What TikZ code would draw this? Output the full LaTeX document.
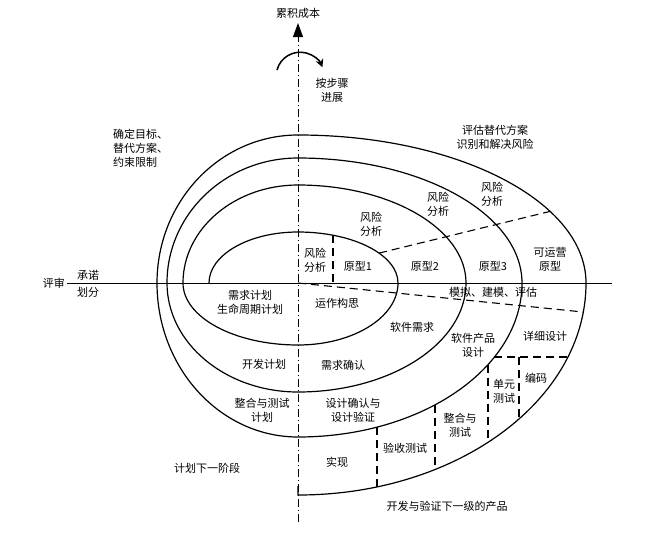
\documentclass[tikz,border=0pt]{standalone}
\usepackage{fontspec}
\newfontfamily\cjk{Noto Sans CJK SC}
\usetikzlibrary{arrows.meta}
\begin{document}
\begin{tikzpicture}[x=1pt,y=-1pt,
  txt/.style={font=\cjk\fontsize{11}{14}\selectfont, align=center, inner sep=0pt},
  curve/.style={line width=1.2pt},
  dsh/.style={line width=1.1pt, dash pattern=on 8pt off 5pt},
  axis/.style={line width=0.9pt, dash pattern=on 8pt off 3pt on 1pt off 3pt}]
\useasboundingbox (0,0) rectangle (652,538);
% vertical axis with arrow
\coordinate (axtop) at (298,23);
\coordinate (axbot) at (298,522);
\draw[axis] (axbot) -- (298,36);
\draw[line width=0.9pt, -{Triangle[length=14pt,width=10pt]}] (298,37) -- (axtop);
% rotation arrow
\draw[line width=1.5pt, -{Stealth[length=8pt,width=8pt]}] (277,70) arc[start angle=195, end angle=338, radius=24];
% horizontal axis
\coordinate (hl) at (67,283);
\coordinate (hr) at (612,283);
\draw[line width=1pt] (hl) -- (hr);
% spiral
\draw[curve] (209,283)
  arc[start angle=180, end angle=270, x radius=89, y radius=51]
  arc[start angle=270, end angle=360, x radius=100, y radius=51]
  arc[start angle=0, end angle=90, x radius=100, y radius=62]
  arc[start angle=90, end angle=180, x radius=115, y radius=62]
  arc[start angle=180, end angle=270, x radius=115, y radius=98]
  arc[start angle=270, end angle=360, x radius=168, y radius=98]
  arc[start angle=0, end angle=90, x radius=168, y radius=109]
  arc[start angle=90, end angle=180, x radius=131, y radius=109]
  arc[start angle=180, end angle=270, x radius=131, y radius=125]
  arc[start angle=270, end angle=360, x radius=224, y radius=125]
  arc[start angle=0, end angle=90, x radius=224, y radius=154]
  arc[start angle=90, end angle=180, x radius=141, y radius=154]
  arc[start angle=180, end angle=270, x radius=141, y radius=148]
  arc[start angle=270, end angle=360, x radius=288, y radius=148]
  arc[start angle=0, end angle=90, x radius=288, y radius=212]
  -- (298,486);
% dashed dividers
\draw[dsh] (333,235.2) -- (333,283);
\draw[dsh] (298,283) -- (583,312);
\draw[dsh] (379,253.1) -- (550,211.4);
\draw[dsh] (494.4,357) -- (568,357);
\draw[dsh] (488,364.6) -- (488,442.3);
\draw[dsh] (519,357) -- (519,418.9);
\draw[dsh] (435,404.8) -- (435,469.5);
\draw[dsh] (377,427.1) -- (377,486.9);
% texts
\node[txt] (cost) at (298,13) {累积成本};
\node[txt] (step) at (332,90) {按步骤\\进展};
\node[txt, align=left, anchor=west] (goal) at (113,148) {确定目标、\\替代方案、\\约束限制};
\node[txt] (eval) at (495,137.5) {评估替代方案\\识别和解决风险};
\node[txt] (ra1) at (315,260) {风险\\分析};
\node[txt] (ra2) at (371,224) {风险\\分析};
\node[txt] (ra3) at (438,204) {风险\\分析};
\node[txt] (ra4) at (492,194) {风险\\分析};
\node[txt] (p1) at (358,266) {原型1};
\node[txt] (p2) at (425,266) {原型2};
\node[txt] (p3) at (493,266) {原型3};
\node[txt] (op) at (550,259) {可运营\\原型};
\node[txt, anchor=east] (review) at (65,283) {评审};
\node[txt] (commit) at (88,275) {承诺};
\node[txt] (part) at (88,292) {划分};
\node[txt] (req) at (250,302) {需求计划\\生命周期计划};
\node[txt] (concept) at (337,303) {运作构思};
\node[txt] (sim) at (493,292) {模拟、建模、评估};
\node[txt] (swreq) at (412,327) {软件需求};
\node[txt] (prod) at (473,345.5) {软件产品\\设计};
\node[txt] (detail) at (545,336) {详细设计};
\node[txt] (code) at (536,378) {编码};
\node[txt] (unit) at (504,391) {单元\\测试};
\node[txt] (reqv) at (343,365) {需求确认};
\node[txt] (devp) at (264,364) {开发计划};
\node[txt] (intp) at (262,410) {整合与测试\\计划};
\node[txt] (desv) at (353,410) {设计确认与\\设计验证};
\node[txt] (intt) at (460,425.5) {整合与\\测试};
\node[txt] (acc) at (405,448) {验收测试};
\node[txt] (impl) at (337,462) {实现};
\node[txt] (next) at (207,468) {计划下一阶段};
\node[txt] (devv) at (447,506) {开发与验证下一级的产品};
\end{tikzpicture}
\end{document}
